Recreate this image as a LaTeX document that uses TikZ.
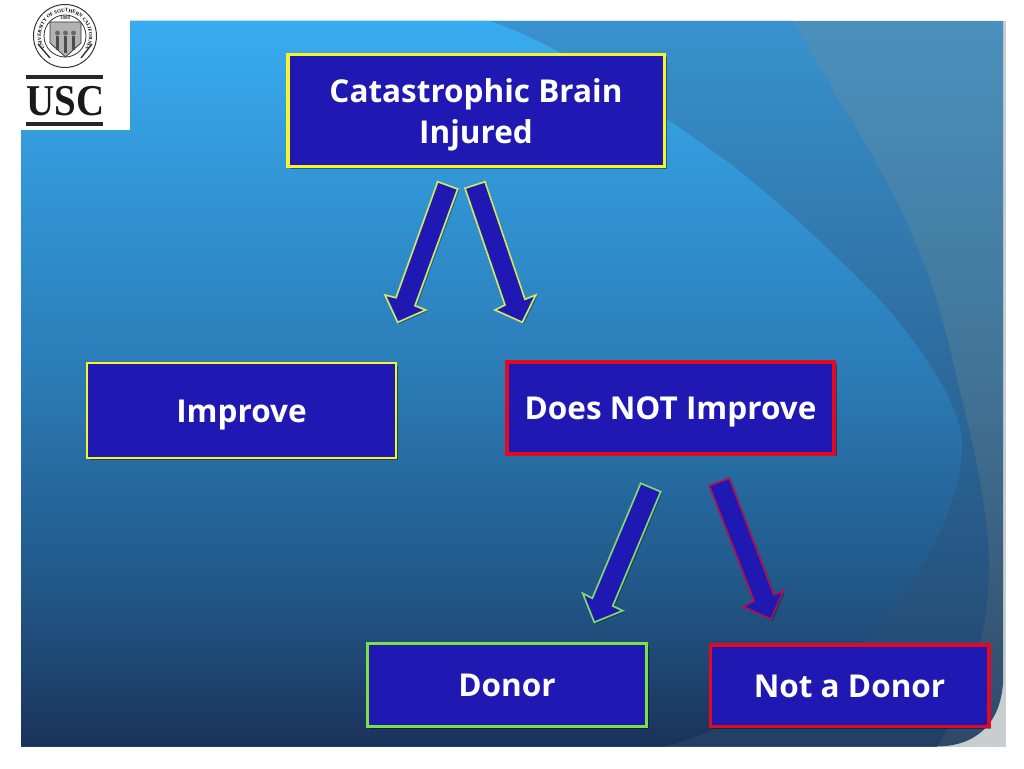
\documentclass[tikz,border=0pt]{standalone}
\usepackage{fontspec}
\setmainfont{Open Sans}
\newfontfamily\uscfont{Liberation Serif}
\usetikzlibrary{shadows,decorations.text}
\definecolor{boxblue}{RGB}{32,24,178}
\definecolor{ylw}{RGB}{245,245,45}
\definecolor{grn}{RGB}{125,225,70}
\definecolor{rd}{RGB}{225,10,35}
\definecolor{arrylw}{RGB}{205,230,100}
\definecolor{arrgrn}{RGB}{130,215,110}
\definecolor{arrrd}{RGB}{170,20,80}
\pgfdeclareverticalshading{innergrad}{100bp}{rgb(0bp)=(0.106,0.196,0.353); rgb(25bp)=(0.106,0.196,0.353); rgb(35bp)=(0.129,0.333,0.518); rgb(50bp)=(0.165,0.478,0.706); rgb(75bp)=(0.220,0.675,0.941); rgb(100bp)=(0.220,0.675,0.941)}
\pgfdeclareverticalshading{midgrad}{100bp}{rgb(0bp)=(0.133,0.243,0.392); rgb(25bp)=(0.133,0.243,0.392); rgb(35bp)=(0.145,0.325,0.494); rgb(50bp)=(0.173,0.412,0.608); rgb(75bp)=(0.220,0.573,0.808); rgb(100bp)=(0.220,0.573,0.808)}
\pgfdeclareverticalshading{outergrad}{100bp}{rgb(0bp)=(0.180,0.282,0.408); rgb(25bp)=(0.180,0.282,0.408); rgb(35bp)=(0.220,0.353,0.478); rgb(50bp)=(0.255,0.451,0.588); rgb(75bp)=(0.294,0.569,0.745); rgb(100bp)=(0.294,0.569,0.745)}
\tikzset{
 x=1pt,y=-1pt,
 boxstyle/.style={fill=boxblue,inner sep=0pt,outer sep=0pt,anchor=north west,align=center,text=white,font=\bfseries\fontsize{31.5}{41}\selectfont,drop shadow={shadow xshift=2.5pt,shadow yshift=-2.5pt,fill=black,opacity=.4}},
 single/.style={text height=23pt,text depth=0pt},
 arr/.style={fill=boxblue,line width=1.7pt,line join=miter,miter limit=10,drop shadow={shadow xshift=1.5pt,shadow yshift=-1.5pt,fill=black,opacity=.3}},
 logo/.style={black!80},
}
\newcommand{\lineup}[1]{\raisebox{-12pt}[0pt][0pt]{#1}}
\begin{document}
\begin{tikzpicture}
\useasboundingbox (0,0) rectangle (1024,768);
\fill[white] (0,0) rectangle (1024,768);
\fill[color={rgb,255:red,200;green,205;blue,208}] (21,21) rectangle (1006,747);
% outer panel
\path[shading=outergrad]
 (21,21) -- (1003,21) -- (1003,683) .. controls (1000,725) and (975,746) .. (937,746.5) -- (21,746.5) -- cycle;
% middle
\path[shading=midgrad]
 (21,21) -- (793,21) -- (833,90) -- (873,157) .. controls (905,215) and (935,275) .. (957,380) .. controls (970,430) and (989,510) .. (989,567) .. controls (989,640) and (965,700) .. (937,746.5) -- (21,746.5) -- cycle;
% inner
\path[shading=innergrad]
 (21,21) -- (490,21) .. controls (560,45) and (640,100) .. (700,142) .. controls (770,190) and (840,260) .. (880,300) .. controls (920,345) and (962,405) .. (962,445) .. controls (962,510) and (915,590) .. (863,640) .. controls (820,680) and (740,725) .. (665,746.5) -- (21,746.5) -- cycle;
% logo
\fill[white] (0,0) rectangle (130,130);
\draw[logo,line width=1pt] (65,36) circle (31.5);
\draw[logo,line width=.8pt] (65,36) circle (21);
\path[decorate,decoration={text along path,text align=center,text={|\uscfont\bfseries\fontsize{5}{5}\selectfont|UNIVERSITY OF SOUTHERN CALIFORNIA}}]
 (51.2,55.7) .. controls (44.8,51.2) and (41,43.83) .. (41,36) .. controls (41,22.75) and (51.75,12) .. (65,12) .. controls (78.25,12) and (89,22.75) .. (89,36) .. controls (89,43.83) and (85.2,51.2) .. (78.8,55.7);
\node[inner sep=0pt,font=\uscfont\bfseries\fontsize{5}{5}\selectfont,text=black!80] (year) at (65,18) {1880};
\draw[logo,fill=black!30,line width=.7pt] (50,22) -- (81,22) -- (81,43) -- (65.5,57) -- (50,43) -- cycle;
\fill[black!70] (56,36) rectangle (59,50);
\fill[black!70] (64,36) rectangle (67,53);
\fill[black!70] (72,36) rectangle (75,50);
\fill[black!60] (57.5,33) circle (2.4) (65.5,33) circle (2.4) (73.5,33) circle (2.4);
\draw[logo,line width=1.4pt] (38,44) -- (50,58) (92,44) -- (81,58);
\fill[black!85] (26,75) rectangle (103,79);
\fill[black!85] (26,122) rectangle (103,126);
\node[inner sep=0pt,text=black!90,xscale=.885] (usc) at (65.5,101) {\uscfont\bfseries\fontsize{44}{44}\selectfont USC};
% boxes
\node[boxstyle,draw=ylw,line width=3.5pt,minimum width=376.5pt,minimum height=111.5pt] (cat) at (287.75,54.75) {\lineup{Catastrophic Brain}\\\lineup{Injured}};
\node[boxstyle,single,draw=ylw,line width=2.4pt,minimum width=308.6pt,minimum height=94.6pt] (imp) at (87.2,363.2) {Improve};
\node[boxstyle,single,draw=rd,line width=3.6pt,minimum width=327pt,minimum height=92pt] (dni) at (507,361.8) {Does NOT Improve};
\node[boxstyle,single,draw=grn,line width=3pt,minimum width=279pt,minimum height=83pt] (don) at (367.5,643.5) {Donor};
\node[boxstyle,single,draw=rd,line width=3.6pt,minimum width=278.5pt,minimum height=81.5pt] (nad) at (710.3,644.8) {Not a Donor};
% arrows
\draw[arr,draw=arrylw] (437.7,181.7) -- (457.7,189) -- (415,305.7) -- (425.7,310) -- (397.7,322.3) -- (385,295) -- (396,297.7) -- cycle;
\draw[arr,draw=arrylw] (465,188.3) -- (485,181.7) -- (525,299.3) -- (535.7,295) -- (522.3,322.3) -- (495,310) -- (505,305) -- cycle;
\draw[arr,draw=arrgrn] (640.7,483.3) -- (660.7,491.7) -- (612.7,606) -- (622.7,610.7) -- (594.3,622.3) -- (582.7,593.3) -- (592.3,598.3) -- cycle;
\draw[arr,draw=arrrd] (709.3,485.7) -- (729.3,478.3) -- (774,595) -- (783.3,590.7) -- (771,619.3) -- (743.3,606.7) -- (754,600.7) -- cycle;
\end{tikzpicture}
\end{document}
